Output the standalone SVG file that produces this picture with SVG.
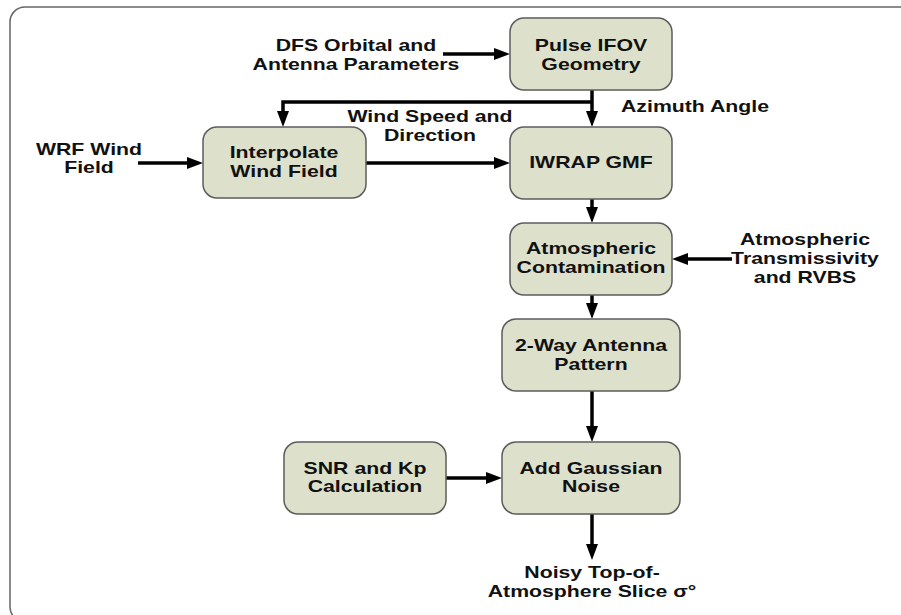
<svg xmlns="http://www.w3.org/2000/svg" width="901" height="615" viewBox="0 0 901 615">
<style>
.box{fill:#dde0cb;stroke:#5c5c5c;stroke-width:1.5}
.t{font-family:"Liberation Sans",Arial,sans-serif;font-weight:bold;font-size:16px;fill:#111;text-anchor:middle}
.c{fill:none;stroke:#000;stroke-width:3.5;marker-end:url(#ah)}
</style>
<defs>
<marker id="ah" markerUnits="userSpaceOnUse" markerWidth="16" markerHeight="12" viewBox="0 0 16 12" refX="10" refY="6" orient="auto">
<path d="M0,0 L16,6 L0,12 Z" fill="#000"/>
</marker>
</defs>
<rect x="0" y="0" width="901" height="615" fill="#fff"/>
<rect x="10" y="7" width="930" height="615" rx="15" fill="none" stroke="#666" stroke-width="1.5"/>

<g id="connectors">
<path class="c" d="M443,54 H504"/>
<path class="c" d="M592,90 V121"/>
<path class="c" d="M592,102 H283 V121"/>
<path class="c" d="M366,163 H504"/>
<path class="c" d="M138,163 H197"/>
<path class="c" d="M592,199 V217"/>
<path class="c" d="M732,259 H678"/>
<path class="c" d="M592,295 V313"/>
<path class="c" d="M592,391 V436"/>
<path class="c" d="M446,478 H496"/>
<path class="c" d="M592,514 V554"/>
</g>

<g id="pulse">
<rect class="box" x="510" y="18" width="162" height="72" rx="14"/>
<text class="t" transform="translate(591,51) scale(1.33,1)"><tspan x="0">Pulse IFOV</tspan><tspan x="0" dy="19">Geometry</tspan></text>
</g>
<g id="interp">
<rect class="box" x="203" y="127" width="163" height="71" rx="14"/>
<text class="t" transform="translate(284,158) scale(1.33,1)"><tspan x="0">Interpolate</tspan><tspan x="0" dy="19">Wind Field</tspan></text>
</g>
<g id="iwrap">
<rect class="box" x="510" y="127" width="162" height="72" rx="14"/>
<text class="t" transform="translate(591,168) scale(1.33,1)">IWRAP GMF</text>
</g>
<g id="atmos">
<rect class="box" x="510" y="223" width="162" height="72" rx="14"/>
<text class="t" transform="translate(591,254) scale(1.33,1)"><tspan x="0">Atmospheric</tspan><tspan x="0" dy="19">Contamination</tspan></text>
</g>
<g id="antenna">
<rect class="box" x="502" y="319" width="178" height="72" rx="14"/>
<text class="t" transform="translate(591,351) scale(1.33,1)"><tspan x="0">2-Way Antenna</tspan><tspan x="0" dy="19">Pattern</tspan></text>
</g>
<g id="gauss">
<rect class="box" x="502" y="442" width="178" height="72" rx="14"/>
<text class="t" transform="translate(591,474) scale(1.33,1)"><tspan x="0">Add Gaussian</tspan><tspan x="0" dy="18">Noise</tspan></text>
</g>
<g id="snr">
<rect class="box" x="284" y="442" width="162" height="72" rx="14"/>
<text class="t" transform="translate(365,474) scale(1.33,1)"><tspan x="0">SNR and Kp</tspan><tspan x="0" dy="18">Calculation</tspan></text>
</g>

<g id="dfs">
<text class="t" transform="translate(356,51) scale(1.33,1)"><tspan x="0">DFS Orbital and</tspan><tspan x="0" dy="19">Antenna Parameters</tspan></text>
</g>
<g id="windspeed">
<text class="t" transform="translate(430,122) scale(1.33,1)"><tspan x="0">Wind Speed and</tspan><tspan x="0" dy="19">Direction</tspan></text>
</g>
<g id="azimuth">
<text class="t" transform="translate(695,112) scale(1.33,1)">Azimuth Angle</text>
</g>
<g id="wrf">
<text class="t" transform="translate(89,155) scale(1.33,1)"><tspan x="0">WRF Wind</tspan><tspan x="0" dy="18">Field</tspan></text>
</g>
<g id="transmiss">
<text class="t" transform="translate(805,245) scale(1.33,1)"><tspan x="0">Atmospheric</tspan><tspan x="0" dy="19">Transmissivity</tspan><tspan x="0" dy="19">and RVBS</tspan></text>
</g>
<g id="output">
<text class="t" transform="translate(592,578) scale(1.33,1)"><tspan x="0">Noisy Top-of-</tspan><tspan x="0" dy="19">Atmosphere Slice σ°</tspan></text>
</g>
</svg>
